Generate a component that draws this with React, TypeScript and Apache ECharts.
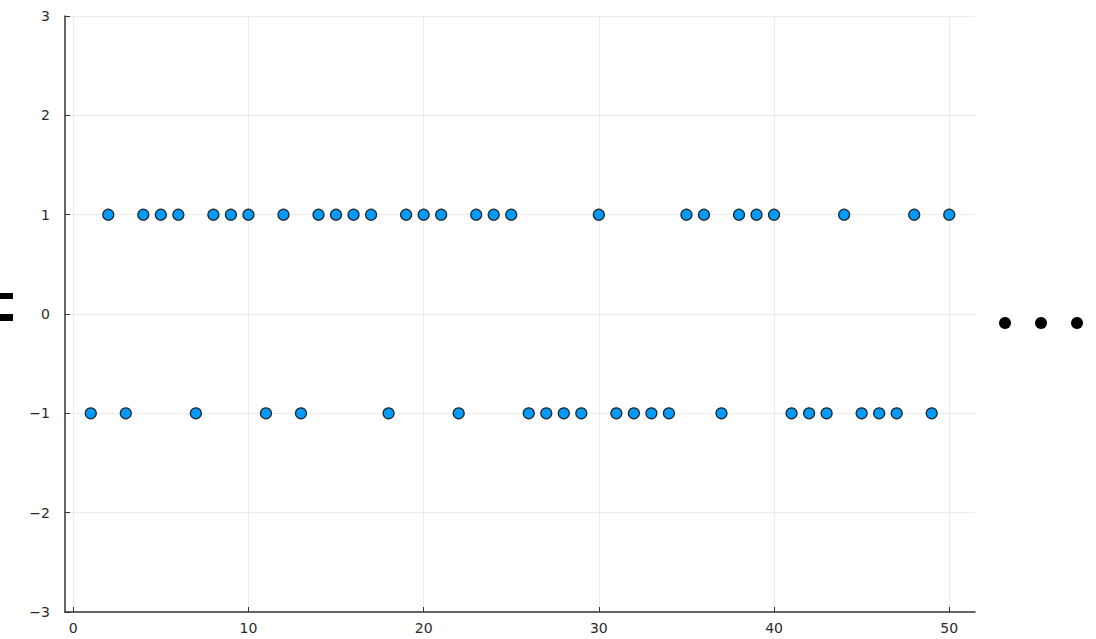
import React, { useEffect, useRef } from "react";
import * as echarts from "echarts";

const xValues: number[] = Array.from({ length: 50 }, (_, i) => i + 1);
const yValues: number[] = [
  -1, 1, -1, 1, 1, 1, -1, 1, 1, 1,
  -1, 1, -1, 1, 1, 1, 1, -1, 1, 1,
  1, -1, 1, 1, 1, -1, -1, -1, -1, 1,
  -1, -1, -1, -1, 1, 1, -1, 1, 1, 1,
  -1, -1, -1, 1, -1, -1, -1, 1, -1, 1,
];
const xTicks: number[] = [0, 10, 20, 30, 40, 50];
const yTicks: number[] = [-3, -2, -1, 0, 1, 2, 3];

const fmt = (v: number) => (v < 0 ? "\u2212" + Math.abs(v) : String(v));

export default function App() {
  const ref = useRef<HTMLDivElement>(null);
  useEffect(() => {
    if (!ref.current) return;
    const chart = echarts.init(ref.current, null, { renderer: "svg" });
    const labelStyle = {
      color: "#2a2a2a",
      fontFamily: "DejaVu Sans",
      fontSize: 14,
      formatter: (v: number) => fmt(v),
    };
    chart.setOption({
      animation: false,
      backgroundColor: "#ffffff",
      grid: { left: 65, right: 121, top: 16, bottom: 27, containLabel: false },
      xAxis: {
        type: "value",
        min: -0.47,
        max: 51.47,
        axisLine: { show: true, onZero: false, lineStyle: { color: "#333", width: 1.5 } },
        axisTick: { show: true, inside: true, length: 5, customValues: xTicks, lineStyle: { color: "#333", width: 1 } },
        axisLabel: { ...labelStyle, margin: 9, customValues: xTicks },
        splitLine: { show: true, customValues: xTicks, lineStyle: { color: "#ececec", width: 1 } },
      },
      yAxis: {
        type: "value",
        min: -3,
        max: 3,
        interval: 1,
        axisLine: { show: true, onZero: false, lineStyle: { color: "#333", width: 1.5 } },
        axisTick: { show: true, inside: true, length: 5, lineStyle: { color: "#333", width: 1 } },
        axisLabel: { ...labelStyle, margin: 15, customValues: yTicks },
        splitLine: { show: true, lineStyle: { color: "#ececec", width: 1 } },
      },
      series: [
        {
          type: "scatter",
          symbol: "circle",
          symbolSize: 11,
          data: xValues.map((x, i) => [x, yValues[i]]),
          itemStyle: { color: "#009AFA", borderColor: "#222", borderWidth: 1.2, opacity: 1 },
        },
      ],
      graphic: [
        { type: "rect", shape: { x: 0, y: 293, width: 13, height: 6 }, style: { fill: "#000" } },
        { type: "rect", shape: { x: 0, y: 314, width: 13, height: 7 }, style: { fill: "#000" } },
        { type: "circle", shape: { cx: 1005, cy: 323, r: 6 }, style: { fill: "#000" } },
        { type: "circle", shape: { cx: 1041, cy: 323, r: 6 }, style: { fill: "#000" } },
        { type: "circle", shape: { cx: 1077, cy: 323, r: 6 }, style: { fill: "#000" } },
      ],
    });
    return () => chart.dispose();
  }, []);
  return (
    <div
      ref={ref}
      style={{ position: "fixed", left: 0, top: 0, width: 1096, height: 639 }}
    />
  );
}
